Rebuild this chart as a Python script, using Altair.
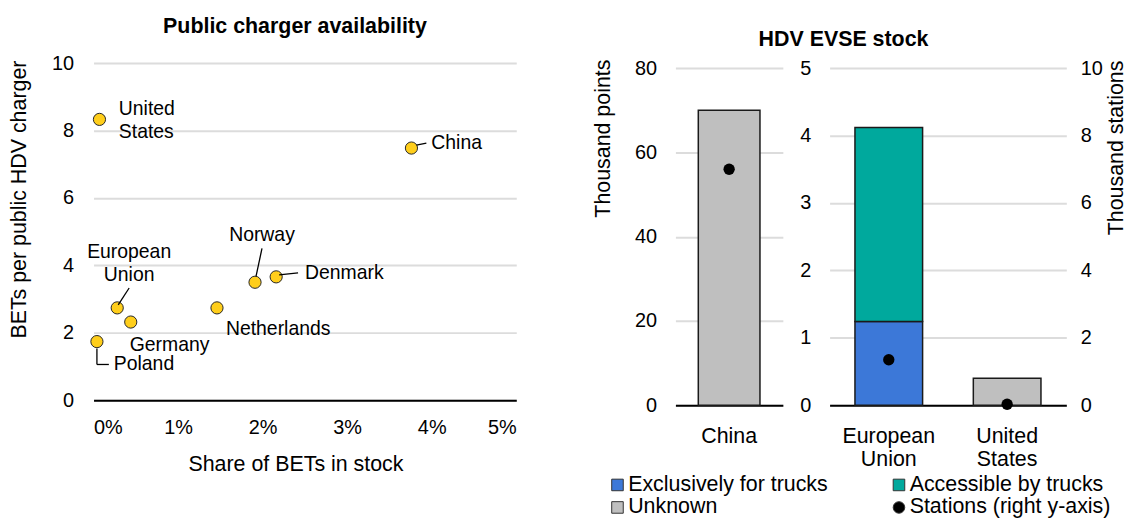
import altair as alt
import pandas as pd

# ---------------- Left panel: public charger availability ----------------
countries = ["United States", "China", "Norway", "Denmark", "European Union",
             "Germany", "Netherlands", "Poland"]
bet_share = [0.0007, 0.0376, 0.0191, 0.0216, 0.0028, 0.0044, 0.0146, 0.0004]
bets_per_charger = [8.33, 7.48, 3.50, 3.66, 2.74, 2.32, 2.74, 1.74]

# ---------------- Right panel: HDV EVSE stock (thousands) ----------------
regions = ["China", "European Union", "United States"]
exclusive_k = [0.0, 1.24, 0.0]
accessible_k = [0.0, 2.88, 0.0]
unknown_k = [70.0, 0.0, 0.4]
stations_k = [7.0, 1.35, 0.03]

series_names = ["Exclusively for trucks", "Accessible by trucks", "Unknown",
                "Stations (right y-axis)"]
series_colors = ["#3C78D8", "#00A99D", "#BFBFBF", "#000000"]
series_shapes = ["square", "square", "square", "circle"]
# legend columns are filled top-to-bottom, so list column 1 first
legend_order = [0, 2, 1, 3]

FONT = "Liberation Sans"
FS = 20        # tick labels
FT = 21.5      # titles, category labels, legend
FD = 19.5      # data labels
GRID = "#DCDCDC"

scatter_df = pd.DataFrame({"country": countries, "share": bet_share,
                           "ratio": bets_per_charger})

rows = []
for i, r in enumerate(regions):
    for k, (name, vals) in enumerate(zip(series_names[:3],
                                         [exclusive_k, accessible_k, unknown_k])):
        if vals[i] > 0:
            rows.append({"region": r, "series": name, "value": vals[i], "order": k})
bars_df = pd.DataFrame(rows)
st_df = pd.DataFrame({"region": regions, "stations": stations_k,
                      "series": [series_names[3]] * len(regions)})

color_scale = alt.Scale(domain=[series_names[i] for i in legend_order],
                        range=[series_colors[i] for i in legend_order])
shape_scale = alt.Scale(domain=[series_names[i] for i in legend_order],
                        range=[series_shapes[i] for i in legend_order])
legend = alt.Legend(title=None, orient="none", legendX=516, legendY=413,
                    columns=2, columnPadding=60, rowPadding=0,
                    labelFontSize=FT, labelFont=FONT, labelColor="black",
                    symbolSize=135, symbolStrokeWidth=1, symbolStrokeColor="#333333",
                    labelOffset=0, labelLimit=400)

# ---------------- Scatter ----------------
x_sc = alt.X("share:Q", scale=alt.Scale(domain=[0, 0.05], nice=False),
             axis=alt.Axis(values=[0, 0.01, 0.02, 0.03, 0.04, 0.05], format=".0%",
                           title="Share of BETs in stock", grid=False, ticks=False,
                           domain=True, domainColor="black", domainWidth=2,
                           labelPadding=17, titlePadding=17, titleX=203))
y_sc = alt.Y("ratio:Q", scale=alt.Scale(domain=[0, 10], nice=False),
             axis=alt.Axis(values=[0, 2, 4, 6, 8, 10], title="BETs per public HDV charger",
                           grid=True, gridColor=GRID, gridWidth=2, ticks=False,
                           domain=False, labelPadding=20, titlePadding=21,
                           titleAnchor="end", titleY=-3))

base = alt.Chart(scatter_df)
pts = base.mark_circle(size=150, color="#FFCE1B", stroke="#262626",
                       strokeWidth=1, opacity=1).encode(x=x_sc, y=y_sc)


def label(country, dx, dy, align="left"):
    return base.transform_filter(alt.datum.country == country).mark_text(
        dx=dx, dy=dy, align=align, baseline="middle", fontSize=FD, font=FONT,
        color="black", lineBreak=" ", lineHeight=22.5).encode(
        x="share:Q", y="ratio:Q", text="country:N")


def leader(country, x0, y0, x1, y1):
    return base.transform_filter(alt.datum.country == country).mark_rule(
        color="black", strokeWidth=1.3, xOffset=x0, yOffset=y0,
        x2Offset=x1, y2Offset=y1).encode(
        x="share:Q", x2="share:Q", y="ratio:Q", y2="ratio:Q")


labels = [
    label("United States", 19.5, -10),
    label("China", 20, -5),
    label("Norway", 7, -47, "center"),
    label("Denmark", 29, -4),
    label("Netherlands", 9, 21),
    label("European Union", 12, -56, "center"),
    label("Germany", -1, 23),
    label("Poland", 17, 23),
]
leaders = [
    leader("China", 5, -3, 15, -5),
    leader("Norway", 1, -6, 7, -34),
    leader("Denmark", 3, -2, 22, -4),
    leader("European Union", 1, -3, 12, -20),
    leader("Poland", 0, 7, 0, 23),
    leader("Poland", 0, 23, 12, 23),
]

scatter = alt.layer(pts, *leaders, *labels).properties(
    width=425, height=339,
    title=alt.TitleParams("Public charger availability", fontSize=FT, fontWeight="bold",
                          font=FONT, anchor="middle", frame="group", dx=-10, offset=16,
                          color="black"))

# invisible layout gap between the two panels
spacer = alt.Chart(pd.DataFrame({"v": [0]})).mark_point(opacity=0).encode(
    x=alt.X("v:Q", axis=None), y=alt.Y("v:Q", axis=None)).properties(width=66, height=10)

# ---------------- Bars ----------------
x_axis_r = alt.Axis(title=None, labelAngle=0, ticks=False, domain=True,
                    domainColor="black", domainWidth=2, labelPadding=20,
                    labelFontSize=FT,
                    labelExpr="split(datum.label, ' ')", labelLineHeight=24)

PANEL_H = 344
TOP_FRAC = 344 / 339  # plot top sits a little above the highest tick


def bar_panel(filter_expr, bar_size, ymax, yvals, ytitle, width, right_axis, title=None):
    bars = alt.Chart(bars_df).transform_filter(filter_expr).mark_bar(
        size=bar_size, stroke="#1A1A1A", strokeWidth=1.5).encode(
        x=alt.X("region:N", axis=x_axis_r,
                scale=alt.Scale(paddingInner=0, paddingOuter=0)),
        y=alt.Y("value:Q", stack="zero",
                scale=alt.Scale(domain=[0, ymax * TOP_FRAC], nice=False),
                axis=alt.Axis(values=yvals, title=ytitle, grid=True, gridColor=GRID,
                              gridWidth=2, ticks=False, domain=False, labelPadding=19,
                              titlePadding=20, titleAnchor="end", titleY=-4)),
        color=alt.Color("series:N", scale=color_scale, legend=legend),
        order=alt.Order("order:Q"),
    )
    if right_axis:
        yaxis = alt.Axis(values=[0, 2, 4, 6, 8, 10], title="Thousand stations", orient="right",
                         grid=False, ticks=False, domain=False, labelPadding=14,
                         titlePadding=3, titleAngle=270, titleBaseline="top",
                         titleAnchor="end", titleY=-3)
    else:
        yaxis = None
    dots = alt.Chart(st_df).transform_filter(filter_expr).mark_point(
        filled=True, size=130, opacity=1).encode(
        x=alt.X("region:N"),
        y=alt.Y("stations:Q", scale=alt.Scale(domain=[0, 10 * TOP_FRAC], nice=False),
                axis=yaxis),
        color=alt.Color("series:N", scale=color_scale, legend=legend),
        shape=alt.Shape("series:N", scale=shape_scale, legend=legend),
    )
    props = dict(width=width, height=PANEL_H)
    if title is not None:
        props["title"] = title
    return alt.layer(bars, dots).resolve_scale(y="independent").properties(**props)


china = bar_panel(alt.datum.region == "China", 62, 80, [0, 20, 40, 60, 80],
                  "Thousand points", 108, False)
others = bar_panel(alt.datum.region != "China", 68, 5, [0, 1, 2, 3, 4, 5],
                   None, 238, True,
                   title=alt.TitleParams("HDV EVSE stock", fontSize=FT, fontWeight="bold",
                                         font=FONT, anchor="middle", frame="group",
                                         dx=-105, offset=8, color="black"))

chart = alt.hconcat(scatter, spacer, china, others, spacing=47, bounds="flush").properties(
    padding={"left": 0, "top": 6, "right": 0, "bottom": 0}
).configure_view(stroke=None).configure_axis(
    labelFont=FONT, titleFont=FONT, labelFontSize=FS, titleFontSize=FT,
    labelColor="black", titleColor="black", titleFontWeight="normal"
).configure_text(font=FONT)

chart.save("out.html", embed_options={"renderer": "svg", "actions": False})
